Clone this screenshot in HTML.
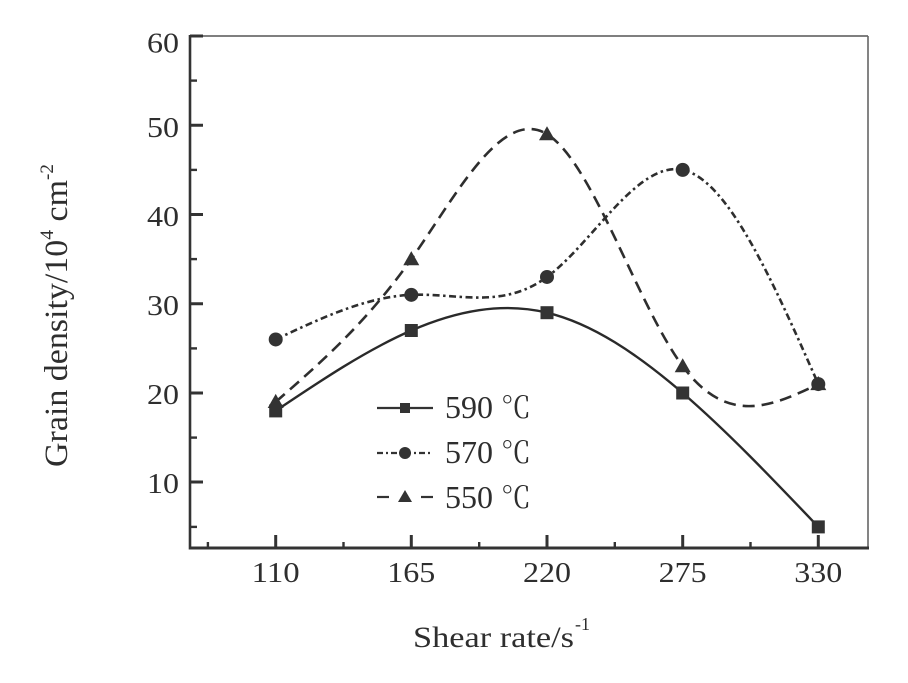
<!DOCTYPE html>
<html>
<head>
<meta charset="utf-8">
<style>
html,body{margin:0;padding:0;background:#fff;}
svg{display:block;}
text{font-family:"Liberation Serif","Noto Serif CJK SC",serif;fill:#2e2e2e;}
</style>
</head>
<body>
<svg width="908" height="683" viewBox="0 0 908 683" xmlns="http://www.w3.org/2000/svg">
<rect width="908" height="683" fill="#fff"/>

<!-- frame -->
<line x1="190" y1="36" x2="868" y2="36" stroke="#555" stroke-width="1.6"/>
<line x1="868" y1="36" x2="868" y2="548" stroke="#666" stroke-width="1.6"/>
<line x1="190" y1="35" x2="190" y2="549.5" stroke="#333" stroke-width="2.6"/>
<line x1="189" y1="548" x2="869" y2="548" stroke="#333" stroke-width="3"/>

<!-- y ticks -->
<g stroke="#333" stroke-width="3">
<line x1="190" y1="36" x2="203" y2="36"/>
<line x1="190" y1="125.25" x2="203" y2="125.25"/>
<line x1="190" y1="214.5" x2="203" y2="214.5"/>
<line x1="190" y1="303.75" x2="203" y2="303.75"/>
<line x1="190" y1="393" x2="203" y2="393"/>
<line x1="190" y1="482" x2="203" y2="482"/>
</g>
<g stroke="#333" stroke-width="2.4">
<line x1="190" y1="80.6" x2="197" y2="80.6"/>
<line x1="190" y1="169.9" x2="197" y2="169.9"/>
<line x1="190" y1="259.1" x2="197" y2="259.1"/>
<line x1="190" y1="348.4" x2="197" y2="348.4"/>
<line x1="190" y1="437.6" x2="197" y2="437.6"/>
<line x1="190" y1="526.9" x2="197" y2="526.9"/>
</g>

<!-- x ticks -->
<g stroke="#333" stroke-width="3">
<line x1="275.7" y1="548" x2="275.7" y2="535"/>
<line x1="411.3" y1="548" x2="411.3" y2="535"/>
<line x1="547" y1="548" x2="547" y2="535"/>
<line x1="682.7" y1="548" x2="682.7" y2="535"/>
<line x1="818.3" y1="548" x2="818.3" y2="535"/>
</g>
<g stroke="#333" stroke-width="2.4">
<line x1="207.9" y1="548" x2="207.9" y2="542"/>
<line x1="343.5" y1="548" x2="343.5" y2="542"/>
<line x1="479.2" y1="548" x2="479.2" y2="542"/>
<line x1="614.8" y1="548" x2="614.8" y2="542"/>
<line x1="750.5" y1="548" x2="750.5" y2="542"/>
</g>

<!-- y tick labels -->
<g font-size="29" text-anchor="end">
<text x="179" y="52.3" textLength="32" lengthAdjust="spacingAndGlyphs">60</text>
<text x="179" y="137" textLength="32" lengthAdjust="spacingAndGlyphs">50</text>
<text x="179" y="226" textLength="32" lengthAdjust="spacingAndGlyphs">40</text>
<text x="179" y="315" textLength="32" lengthAdjust="spacingAndGlyphs">30</text>
<text x="179" y="404" textLength="32" lengthAdjust="spacingAndGlyphs">20</text>
<text x="179" y="493" textLength="32" lengthAdjust="spacingAndGlyphs">10</text>
</g>

<!-- x tick labels -->
<g font-size="29" text-anchor="middle">
<text x="275.7" y="582" textLength="48" lengthAdjust="spacingAndGlyphs">110</text>
<text x="411.3" y="582" textLength="48" lengthAdjust="spacingAndGlyphs">165</text>
<text x="547" y="582" textLength="48" lengthAdjust="spacingAndGlyphs">220</text>
<text x="682.7" y="582" textLength="48" lengthAdjust="spacingAndGlyphs">275</text>
<text x="818.3" y="582" textLength="48" lengthAdjust="spacingAndGlyphs">330</text>
</g>

<!-- axis titles -->
<text x="413" y="647" font-size="30" textLength="161" lengthAdjust="spacingAndGlyphs">Shear rate/s</text>
<text x="575" y="630" font-size="18">-1</text>

<g transform="translate(67,467) rotate(-90)">
<text x="0" y="0" font-size="33" textLength="287" lengthAdjust="spacingAndGlyphs">Grain density/10<tspan font-size="19" dy="-14">4</tspan><tspan font-size="33" dy="14"> cm</tspan></text>
<text x="287" y="-14" font-size="19">-2</text>
</g>

<!-- series 590 solid -->
<path d="M275.7,410.85 C320.9,380.51 366.1,350.18 411.3,330.52 C456.5,310.87 501.8,301.89 547.0,312.67 C592.2,323.46 637.4,354.01 682.7,393.0 C727.9,431.99 773.1,479.44 818.3,526.87" fill="none" stroke="#2a2a2a" stroke-width="2.4"/>
<!-- series 570 dash-dot -->
<path d="M275.7,339.45 C320.9,318.15 366.1,296.84 411.3,294.82 C456.5,292.81 501.8,310.07 547.0,276.97 C592.2,243.88 637.4,160.41 682.7,169.87 C727.9,179.34 773.1,281.71 818.3,384.07" fill="none" stroke="#2e2e2e" stroke-width="2.6" stroke-dasharray="7,3.5,2.5,3.5"/>
<!-- series 550 dashed -->
<path d="M275.7,401.92 C320.9,362.5 366.1,323.09 411.3,259.12 C456.5,195.16 501.8,106.66 547.0,134.17 C592.2,161.69 637.4,305.24 682.7,366.22 C727.9,427.21 773.1,405.65 818.3,384.07" fill="none" stroke="#2e2e2e" stroke-width="2.6" stroke-dasharray="12,7"/>

<!-- markers 590 squares -->
<g fill="#333">
<rect x="269.2" y="404.4" width="13" height="13"/>
<rect x="404.8" y="324" width="13" height="13"/>
<rect x="540.5" y="306.2" width="13" height="13"/>
<rect x="676.2" y="386.5" width="13" height="13"/>
<rect x="811.8" y="520.4" width="13" height="13"/>
</g>
<!-- markers 570 circles -->
<g fill="#333">
<circle cx="275.7" cy="339.45" r="7"/>
<circle cx="411.3" cy="294.82" r="7"/>
<circle cx="547" cy="276.97" r="7"/>
<circle cx="682.7" cy="169.87" r="7"/>
<circle cx="818.3" cy="384.07" r="7"/>
</g>
<!-- markers 550 triangles -->
<g fill="#333">
<polygon points="275.7,393.9 283.7,408 267.7,408"/>
<polygon points="411.3,251.1 419.3,265.2 403.3,265.2"/>
<polygon points="547,126.2 555,140.3 539,140.3"/>
<polygon points="682.7,358.2 690.7,372.3 674.7,372.3"/>
<polygon points="818.3,376 826.3,390.1 810.3,390.1"/>
</g>

<!-- legend -->
<line x1="377" y1="408" x2="433" y2="408" stroke="#333" stroke-width="2.2"/>
<rect x="400" y="403" width="10" height="10" fill="#333"/>
<text x="445" y="418" font-size="32">590 <tspan font-family="'Noto Serif CJK SC','Noto Sans CJK SC',serif" font-size="30">℃</tspan></text>

<line x1="377" y1="453" x2="433" y2="453" stroke="#333" stroke-width="2.2" stroke-dasharray="6,3,2,3"/>
<circle cx="405" cy="453" r="6" fill="#333"/>
<text x="445" y="463" font-size="32">570 <tspan font-family="'Noto Serif CJK SC','Noto Sans CJK SC',serif" font-size="30">℃</tspan></text>

<line x1="377" y1="497" x2="389" y2="497" stroke="#333" stroke-width="2.2"/>
<line x1="421" y1="497" x2="433" y2="497" stroke="#333" stroke-width="2.2"/>
<polygon points="405,490 412,502 398,502" fill="#333"/>
<text x="445" y="508" font-size="32">550 <tspan font-family="'Noto Serif CJK SC','Noto Sans CJK SC',serif" font-size="30">℃</tspan></text>
</svg>
</body>
</html>
